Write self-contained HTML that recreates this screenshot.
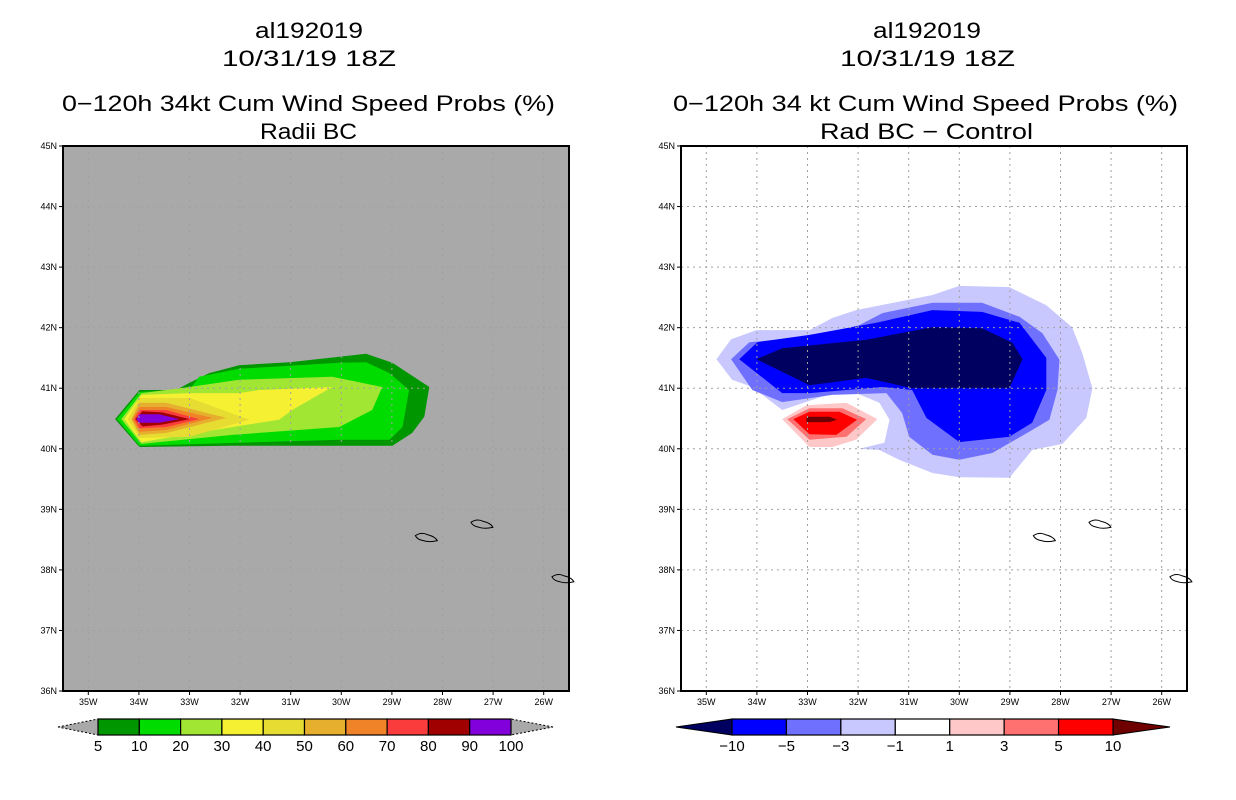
<!DOCTYPE html>
<html><head><meta charset="utf-8"><style>
body{margin:0;background:#fff;}
svg{display:block;font-family:"Liberation Sans",sans-serif;}
</style></head><body>
<svg id="chart" width="1236" height="800" viewBox="0 0 1236 800" xmlns="http://www.w3.org/2000/svg">
<g id="titles" font-size="22" fill="#000">
<text x="255" y="38" textLength="108" lengthAdjust="spacingAndGlyphs">al192019</text>
<text x="222" y="66" textLength="174" lengthAdjust="spacingAndGlyphs">10/31/19 18Z</text>
<text x="62" y="111" textLength="493" lengthAdjust="spacingAndGlyphs">0−120h 34kt Cum Wind Speed Probs (%)</text>
<text x="260" y="139" textLength="97" lengthAdjust="spacingAndGlyphs">Radii BC</text>
<text x="873" y="38" textLength="108" lengthAdjust="spacingAndGlyphs">al192019</text>
<text x="840" y="66" textLength="175" lengthAdjust="spacingAndGlyphs">10/31/19 18Z</text>
<text x="673" y="111" textLength="505" lengthAdjust="spacingAndGlyphs">0−120h 34 kt Cum Wind Speed Probs (%)</text>
<text x="820" y="139" textLength="213" lengthAdjust="spacingAndGlyphs">Rad BC − Control</text>
</g>
</svg>
<script>
const NS="http://www.w3.org/2000/svg";
const svg=document.getElementById('chart');
const lonTicks=[35,34,33,32,31,30,29,28,27,26];
const latTicks=[45,44,43,42,41,40,39,38,37,36];
const probLevels=[5,10,20,30,40,50,60,70,80,90,100];
const probColors=["#009600","#00dc00","#a0e632","#f5f032","#e6dc32","#e6af2d","#f08228","#fa3c3c","#a00000","#8200dc"];
const p5Lon=[34.47,33.99,33.26,33.0,32.61,32.02,31.03,30.04,29.51,28.99,28.26,28.36,28.6,28.99,30.04,32.15,33.99];
const p5Lat=[40.49,40.97,40.97,41.09,41.25,41.38,41.43,41.52,41.57,41.42,41.02,40.53,40.26,40.05,40.05,40.05,40.03];
const p10Lon=[34.43,33.99,33.0,32.81,32.02,30.04,29.51,29.05,28.66,28.79,29.05,30.04,33.99];
const p10Lat=[40.49,40.94,40.97,41.19,41.32,41.42,41.43,41.25,40.97,40.36,40.15,40.15,40.05];
const p20Lon=[34.35,33.95,33.0,32.02,30.18,29.19,29.39,30.04,32.15,33.95];
const p20Lat=[40.49,40.92,41.02,41.14,41.19,41.02,40.64,40.36,40.23,40.08];
const p30Lon=[34.29,33.95,33.0,32.02,31.62,30.18,30.97,31.23,32.15,33.95];
const p30Lat=[40.49,40.89,40.92,40.92,40.97,41.02,40.64,40.48,40.36,40.11];
const p40Lon=[34.22,33.99,33.0,31.82,33.0,33.99];
const p40Lat=[40.49,40.84,40.84,40.48,40.2,40.18];
const p50Lon=[34.15,33.99,33.46,32.27,33.46,33.99];
const p50Lat=[40.49,40.76,40.76,40.51,40.26,40.23];
const p60Lon=[34.13,33.99,33.46,32.55,33.46,33.99];
const p60Lat=[40.49,40.69,40.69,40.51,40.31,40.28];
const p70Lon=[34.09,33.99,33.46,32.81,33.46,33.99];
const p70Lat=[40.49,40.64,40.64,40.49,40.36,40.34];
const p80Lon=[34.07,33.93,33.54,33.0,33.54,33.93];
const p80Lat=[40.49,40.62,40.6,40.49,40.4,40.37];
const p90Lon=[34.05,33.99,33.6,33.2,33.6,33.99];
const p90Lat=[40.49,40.57,40.57,40.49,40.43,40.43];
const diffLevels=[-10,-5,-3,-1,1,3,5,10];
const diffColors=["#000060","#0000ff","#7070ff","#c8c8ff","#ffffff","#ffc8c8","#ff7070","#ff0000","#6e0000"];
const dm1Lon=[34.8,34.51,34.01,32.96,32.51,32.04,30.53,30.0,29.01,28.28,27.77,27.57,27.37,27.49,27.96,28.56,29.01,30.0,30.53,31.19,31.58,31.98,31.48,31.38,31.58,32.04,32.51,33.5,34.09,34.49];
const dm1Lat=[41.48,41.81,41.96,41.96,42.16,42.29,42.54,42.69,42.67,42.37,42.01,41.58,41.0,40.51,40.08,39.98,39.52,39.53,39.6,39.82,39.98,40.0,40.1,40.48,40.76,40.92,40.92,40.64,41.02,41.14];
const dm3Lon=[34.51,34.15,32.96,31.98,31.52,30.53,29.55,28.81,28.36,28.02,28.06,28.22,28.56,29.35,30.0,30.53,30.99,31.13,31.44,32.51,33.5,34.09];
const dm3Lat=[41.48,41.76,41.85,42.04,42.24,42.41,42.41,42.18,41.91,41.47,40.97,40.48,40.31,39.93,39.82,39.9,40.2,40.59,40.92,40.89,40.77,40.97];
const dm5Lon=[34.35,33.99,32.96,31.64,30.53,29.55,28.81,28.28,28.28,28.56,29.01,30.0,30.65,30.93,31.52,32.96,33.5];
const dm5Lat=[41.48,41.76,41.88,42.08,42.29,42.26,42.08,41.5,40.97,40.43,40.2,40.11,40.51,40.97,41.02,40.92,40.92];
const dm10Lon=[34.01,33.5,31.84,30.53,29.55,28.95,28.75,29.01,30.93,31.84,32.96];
const dm10Lat=[41.48,41.66,41.8,42.01,41.99,41.75,41.48,41.0,41.0,41.17,41.05];
const dp1Lon=[33.5,33.02,32.23,31.62,32.04,32.51,32.96];
const dp1Lat=[40.49,40.72,40.76,40.49,40.15,40.03,40.03];
const dp3Lon=[33.4,32.96,32.31,31.84,32.23,32.96];
const dp3Lat=[40.49,40.67,40.67,40.49,40.2,40.15];
const dp5Lon=[33.28,32.96,32.37,32.02,32.43,32.96];
const dp5Lat=[40.49,40.61,40.61,40.48,40.23,40.24];
const dp10Lon=[33.02,32.57,32.41,32.57,33.02];
const dp10Lat=[40.53,40.53,40.48,40.44,40.44];

const panels=[
 {name:'left',x0:63,x1:569,y0:146,y1:691,bg:'#a9a9a9',
  polys:[[p5Lon,p5Lat,0],[p10Lon,p10Lat,1],[p20Lon,p20Lat,2],[p30Lon,p30Lat,3],[p40Lon,p40Lat,4],[p50Lon,p50Lat,5],[p60Lon,p60Lat,6],[p70Lon,p70Lat,7],[p80Lon,p80Lat,8],[p90Lon,p90Lat,9]],colors:probColors},
 {name:'right',x0:681,x1:1187,y0:146,y1:691,bg:'#ffffff',
  polys:[[dm1Lon,dm1Lat,3],[dm3Lon,dm3Lat,2],[dm5Lon,dm5Lat,1],[dm10Lon,dm10Lat,0],[dp1Lon,dp1Lat,5],[dp3Lon,dp3Lat,6],[dp5Lon,dp5Lat,7],[dp10Lon,dp10Lat,8]],colors:diffColors}
];
function el(tag,attrs,parent){const e=document.createElementNS(NS,tag);for(const k in attrs)e.setAttribute(k,attrs[k]);(parent||svg).appendChild(e);return e;}
panels.forEach(p=>{
  const sx=lon=>p.x0+(35.5-lon)*(p.x1-p.x0)/10;
  const sy=lat=>p.y0+(45-lat)*(p.y1-p.y0)/9;
  const g=el('g',{});
  
  
  const bg=el('rect',{x:p.x0,y:p.y0,width:p.x1-p.x0,height:p.y1-p.y0,fill:p.bg},g);
  
  
  p.polys.forEach(([lo,la,ci],i)=>{
    const pts=lo.map((v,j)=>sx(v).toFixed(1)+','+sy(la[j]).toFixed(1)).join(' ');
    const pg=el('polygon',{points:pts,fill:p.colors[ci]},g);
    
    
  });
  lonTicks.forEach(l=>{const ln=el('line',{x1:sx(l),x2:sx(l),y1:p.y0,y2:p.y1,stroke:'#a0a0a0','stroke-dasharray':'2,4','stroke-width':1},g);
    });
  latTicks.forEach(l=>{const ln=el('line',{y1:sy(l),y2:sy(l),x1:p.x0,x2:p.x1,stroke:'#a0a0a0','stroke-dasharray':'2,4','stroke-width':1},g);
    });
  const isl=[[28.3,38.5],[27.2,38.72],[25.6,37.82]];
  isl.forEach(([lo,la])=>{const cx=sx(lo),cy=sy(la);
    const e=el('path',{d:`M${cx-12},${cy-4} q6,-4 12,-1 q8,2 10,6 q-8,2 -14,0 q-6,-1 -8,-5z`,fill:'none',stroke:'#000','stroke-width':1},g);
    });
  const fr=el('rect',{x:p.x0,y:p.y0,width:p.x1-p.x0,height:p.y1-p.y0,fill:'none',stroke:'#000','stroke-width':2},g);
  
  lonTicks.forEach(l=>{el('line',{x1:sx(l),x2:sx(l),y1:p.y1,y2:p.y1+4,stroke:'#000'},g);
    const t=el('text',{x:sx(l),y:p.y1+14,'font-size':9,'text-anchor':'middle'},g);t.textContent=l+'W';
    });
  latTicks.forEach(l=>{el('line',{x1:p.x0-4,x2:p.x0,y1:sy(l),y2:sy(l),stroke:'#000'},g);
    const t=el('text',{x:p.x0-6,y:sy(l)+3,'font-size':9,'text-anchor':'end'},g);t.textContent=l+'N';
    });
});
function colorbar(name,x0,x1,triL,triR,levels,colors,lc,rc,dashed){
  const g=el('g',{});
  
  
  const y0=719,y1=735;
  const w=(x1-x0)/(levels.length-1);
  el('polygon',{points:`${triL},${(y0+y1)/2} ${x0},${y0} ${x0},${y1}`,fill:lc,stroke:'#000','stroke-dasharray':dashed?'2,2':'none'},g);
  el('polygon',{points:`${triR},${(y0+y1)/2} ${x1},${y0} ${x1},${y1}`,fill:rc,stroke:'#000','stroke-dasharray':dashed?'2,2':'none'},g);
  for(let i=0;i<levels.length-1;i++){
    const r=el('rect',{x:x0+i*w,y:y0,width:w,height:y1-y0,fill:colors[i],stroke:'#000','stroke-width':1.2},g);
    
  }
  levels.forEach((v,i)=>{const t=el('text',{x:x0+i*w,y:751,'font-size':15,'text-anchor':'middle'},g);
    t.textContent=String(v).replace('-','−');});
}
colorbar('prob-colorbar',98,511,58,553,probLevels,probColors,'#a9a9a9','#a9a9a9',true);
colorbar('diff-colorbar',732,1113,676,1170,diffLevels,diffColors.slice(1,8),diffColors[0],diffColors[8],false);
</script>
</body></html>
